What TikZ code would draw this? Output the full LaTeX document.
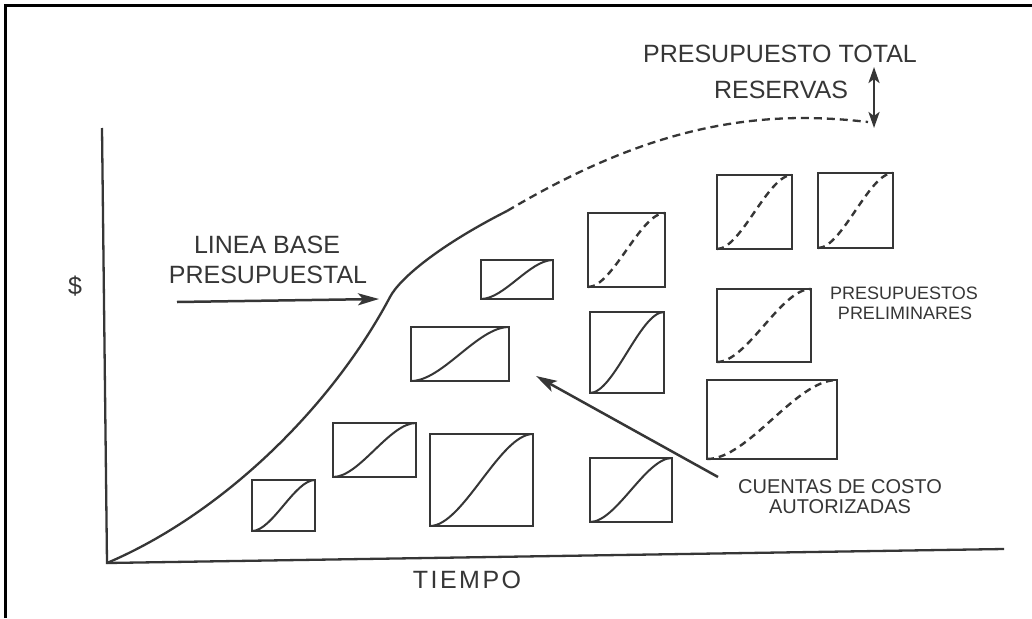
\documentclass[tikz,border=0pt]{standalone}
\usepackage{fontspec}
\setmainfont{Liberation Sans}
\usetikzlibrary{arrows.meta,calc}
\definecolor{ink}{HTML}{363636}
\begin{document}
\begin{tikzpicture}[x=1pt,y=-1pt,
  axisline/.style={draw=ink, line width=2.3pt},
  mainline/.style={draw=ink, line width=2.3pt},
  acct/.style={draw=ink, line width=2.6pt, inner sep=0pt, outer sep=0pt},
  solidcurve/.style={draw=ink, line width=2pt},
  dashcurve/.style={draw=ink, line width=2.4pt, dash pattern=on 7pt off 5pt},
  big/.style={text=ink, font=\fontsize{25}{30}\selectfont, anchor=base, inner sep=0pt},
  small/.style={text=ink, font=\fontsize{20}{24}\selectfont, anchor=base, inner sep=0pt},
  smaller/.style={text=ink, font=\fontsize{18}{22}\selectfont, anchor=base, inner sep=0pt},
  arr/.style={draw=ink, line width=2.5pt, -{Stealth[length=21pt,width=12pt,inset=5pt]}},
  darr/.style={draw=ink, line width=2.6pt, {Stealth[length=16pt,width=11pt,inset=4pt]}-{Stealth[length=16pt,width=11pt,inset=4pt]}},
]
\useasboundingbox (0,0) rectangle (1032,618);
\fill[white] (0,0) rectangle (1032,618);
\draw[black, line width=3pt] (5,618) -- (5,6) -- (1032,6);

% axes
\coordinate (ytop) at (102,128);
\coordinate (o) at (107,563);
\coordinate (xend) at (1004,549);
\draw[axisline] (ytop) -- (o) -- (xend);

% baseline curve
\coordinate (knee) at (390,297);
\coordinate (split) at (507,211);
\coordinate (cend) at (868,122);
\draw[mainline] (o) .. controls (220,515) and (330,410) .. (knee)
  .. controls (400,278) and (440,245) .. (split);
\draw[mainline, dash pattern=on 8pt off 5pt] (split) .. controls (610,150) and (700,119) .. (800,118)
  .. controls (830,118) and (850,120) .. (cend);

% cost-account boxes
\foreach \n/\x/\y/\w/\h/\s in {
  b1/283.5/505.5/63pt/51pt/solidcurve,
  b2/374.5/450/83pt/54pt/solidcurve,
  b3/481.5/480/103pt/92pt/solidcurve,
  b4/631/490/82pt/64pt/solidcurve,
  b5/460/354/98pt/54pt/solidcurve,
  b6/517/279.5/72pt/39pt/solidcurve,
  b7/626.5/250/77pt/74pt/dashcurve,
  b8/627/352.5/74pt/81pt/solidcurve,
  b9/754.5/212/75pt/74pt/dashcurve,
  b10/855.5/210.5/75pt/75pt/dashcurve,
  b11/764/325.5/94pt/73pt/dashcurve,
  b12/772/419.5/130pt/79pt/dashcurve}{
  \node[acct, minimum width=\w, minimum height=\h] (\n) at (\x,\y) {};
  \draw[\s] (\n.south west) .. controls ($(\n.south west)!0.32!(\n.south east)$) and ($(\n.north east)!0.32!(\n.north west)$) .. (\n.north east);
}

% labels
\node[big] (dollar) at (75,294) {\$};
\node[big] (lb1) at (267,253) {LINEA BASE};
\node[big] (lb2) at (268,283) {PRESUPUESTAL};
\node[big] (pt1) at (780,63) {PRESUPUESTO TOTAL};
\node[big] (pt2) at (781,98) {RESERVAS};
\node[big, font=\fontsize{25}{30}\selectfont\addfontfeatures{LetterSpace=10}] (tiempo) at (467,588) {TIEMPO};
\node[smaller] (pp1) at (904,299) {PRESUPUESTOS};
\node[smaller] (pp2) at (905,319) {PRELIMINARES};
\node[small] (c1) at (840,493) {CUENTAS DE COSTO};
\node[small] (c2) at (840,513) {AUTORIZADAS};

% arrows
\coordinate (lbs) at (177,302);
\coordinate (lbe) at (379,299);
\draw[arr] (lbs) -- (lbe);
\coordinate (cs) at (718,477);
\coordinate (ce) at (536,376);
\draw[arr] (cs) -- (ce);
\coordinate (rtop) at (874,67);
\coordinate (rbot) at (874,128);
\draw[darr] (rtop) -- (rbot);
\end{tikzpicture}
\end{document}
